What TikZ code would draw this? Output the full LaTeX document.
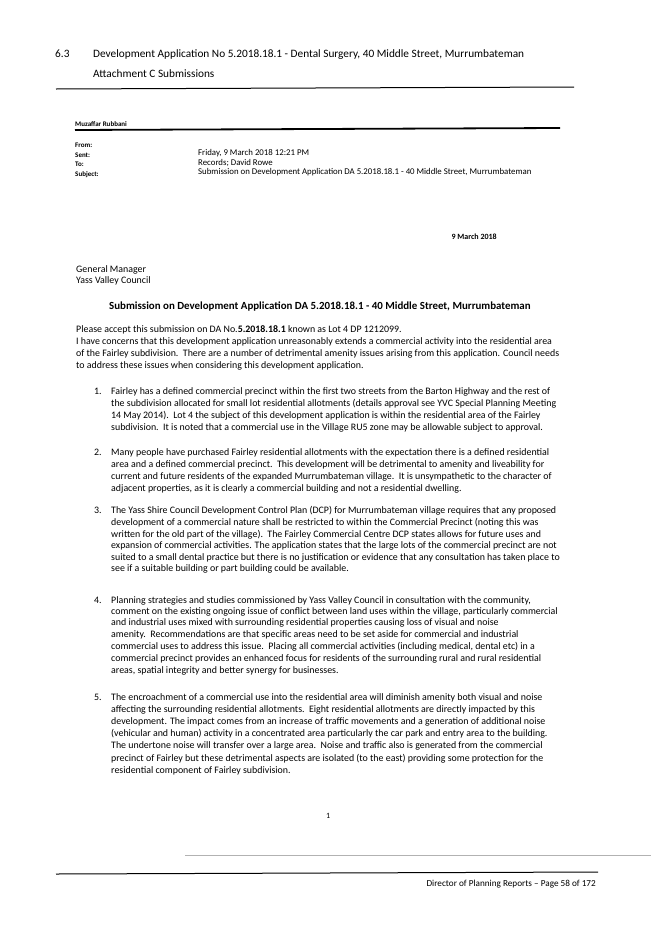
\documentclass[tikz,border=0pt]{standalone}
\usepackage{fontspec}
\setmainfont{Carlito}
\begin{document}
\begin{tikzpicture}[x=1pt,y=-1pt,
    txt/.style={anchor=base west,inner sep=0pt,font=\fontsize{9.9}{11}\selectfont},
    mail/.style={anchor=base west,inner sep=0pt,font=\fontsize{8.8}{10}\selectfont},
    hdr/.style={anchor=base west,inner sep=0pt,font=\fontsize{11.3}{13}\selectfont}]

    \useasboundingbox (0,0) rectangle (651,929);

    % page header
    \node[hdr] (sec) at (55,57) {6.3};
    \node[hdr] (title) at (93,57) {Development Application No 5.2018.18.1 - Dental Surgery, 40 Middle Street, Murrumbateman};
    \node[hdr] (att) at (93,77) {Attachment C Submissions};
    \draw[line width=1pt] (56,89) -- (574,87);

    % email header
    \node[mail,font=\bfseries\fontsize{7}{8}\selectfont] (who) at (75,126) {Muzaffar Rubbani};
    \draw[line width=1.8pt] (75,130) -- (560,128);
    \node[mail,font=\bfseries\fontsize{7}{8}\selectfont] (from) at (75,147) {From:};
    \node[mail,font=\bfseries\fontsize{7}{8}\selectfont] (sent) at (75,157) {Sent:};
    \node[mail,font=\bfseries\fontsize{7}{8}\selectfont] (to) at (75,166) {To:};
    \node[mail,font=\bfseries\fontsize{7}{8}\selectfont] (subj) at (75,176) {Subject:};
    \node[mail] (sentv) at (198,155) {Friday, 9 March 2018 12:21 PM};
    \node[mail] (tov) at (198,165) {Records; David Rowe};
    \node[mail] (subjv) at (198,174) {Submission on Development Application DA 5.2018.18.1 - 40 Middle Street, Murrumbateman};

    \node[mail,anchor=base east,font=\bfseries\fontsize{8}{9}\selectfont] (date) at (497,239) {9 March 2018};
    \node[txt] (gm) at (76,272) {General Manager};
    \node[txt] (yvc) at (76,283) {Yass Valley Council};
    \node[txt,font=\bfseries\fontsize{10.9}{12}\selectfont] (head) at (109,309) {Submission on Development Application DA 5.2018.18.1 - 40 Middle Street, Murrumbateman};

    % introduction
    \node[txt] (p1) at (76,332) {Please accept this submission on DA No.\textbf{5.2018.18.1} known as Lot 4 DP 1212099.};
    \node[txt] (p2) at (76,344) {I have concerns that this development application unreasonably extends a commercial activity into the residential area};
    \node[txt] (p3) at (76,356) {of the Fairley subdivision.\ \ There are a number of detrimental amenity issues arising from this application. Council needs};
    \node[txt] (p4) at (76,368) {to address these issues when considering this development application.};

    % numbered points
    \foreach \n/\y/\t in {
      1/394/{Fairley has a defined commercial precinct within the first two streets from the Barton Highway and the rest of},
      /406/{the subdivision allocated for small lot residential allotments (details approval see YVC Special Planning Meeting},
      /418/{14 May 2014).\ \ Lot 4 the subject of this development application is within the residential area of the Fairley},
      /430/{subdivision.\ \ It is noted that a commercial use in the Village RU5 zone may be allowable subject to approval.},
      2/455/{Many people have purchased Fairley residential allotments with the expectation there is a defined residential},
      /467/{area and a defined commercial precinct.\ \ This development will be detrimental to amenity and liveability for},
      /479/{current and future residents of the expanded Murrumbateman village.\ \ It is unsympathetic to the character of},
      /491/{adjacent properties, as it is clearly a commercial building and not a residential dwelling.},
      3/513/{The Yass Shire Council Development Control Plan (DCP) for Murrumbateman village requires that any proposed},
      /525/{development of a commercial nature shall be restricted to within the Commercial Precinct (noting this was},
      /537/{written for the old part of the village).\ \ The Fairley Commercial Centre DCP states allows for future uses and},
      /548/{expansion of commercial activities. The application states that the large lots of the commercial precinct are not},
      /560/{suited to a small dental practice but there is no justification or evidence that any consultation has taken place to},
      /571/{see if a suitable building or part building could be available.},
      4/603/{Planning strategies and studies commissioned by Yass Valley Council in consultation with the community,},
      /614/{comment on the existing ongoing issue of conflict between land uses within the village, particularly commercial},
      /625/{and industrial uses mixed with surrounding residential properties causing loss of visual and noise},
      /637/{amenity.\ \ Recommendations are that specific areas need to be set aside for commercial and industrial},
      /649/{commercial uses to address this issue.\ \ Placing all commercial activities (including medical, dental etc) in a},
      /661/{commercial precinct provides an enhanced focus for residents of the surrounding rural and rural residential},
      /673/{areas, spatial integrity and better synergy for businesses.},
      5/700/{The encroachment of a commercial use into the residential area will diminish amenity both visual and noise},
      /712/{affecting the surrounding residential allotments.\ \ Eight residential allotments are directly impacted by this},
      /724/{development. The impact comes from an increase of traffic movements and a generation of additional noise},
      /736/{(vehicular and human) activity in a concentrated area particularly the car park and entry area to the building.},
      /748/{The undertone noise will transfer over a large area.\ \ Noise and traffic also is generated from the commercial},
      /761/{precinct of Fairley but these detrimental aspects are isolated (to the east) providing some protection for the},
      /773/{residential component of Fairley subdivision.}}
    {
      \node[txt] at (111,\y) {\t};
      \ifx\n\empty\else\node[txt] at (94,\y) {\n.};\fi
    }

    % page footer
    \node[txt,font=\fontsize{8}{9}\selectfont] (pg) at (326,818) {1};
    \draw[gray!60,line width=0.4pt] (185,855) -- (651,855);
    \draw[line width=1pt] (56,874) -- (598,872);
    \node[txt,anchor=base east,font=\fontsize{9.2}{10}\selectfont] (foot) at (596,886) {Director of Planning Reports -- Page 58 of 172};
\end{tikzpicture}
\end{document}
